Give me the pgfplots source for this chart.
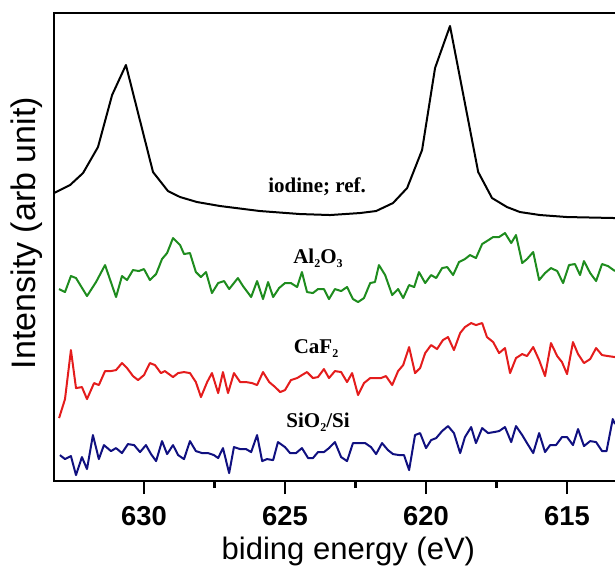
\documentclass[border=0pt]{standalone}
\usepackage{pgfplots}
\pgfplotsset{compat=1.18}
\usepackage{fontspec}
\setmainfont{Liberation Sans}
\newfontfamily\timesfont{Liberation Serif}
\definecolor{cgreen}{RGB}{30,140,30}
\definecolor{cred}{RGB}{228,28,28}
\definecolor{cblue}{RGB}{16,16,128}
\newcommand{\lab}{\timesfont\bfseries\fontsize{15.75}{16}\selectfont}
\newcommand{\sub}[1]{\raisebox{-3.5pt}{\fontsize{9}{9}\selectfont #1}}
\begin{document}
\begin{tikzpicture}
\begin{axis}[
  scale only axis, width=427.0pt, height=351pt,
  xmin=613.0, xmax=633.19, ymin=0, ymax=468,
  x dir=reverse,
  axis line style={line width=2pt},
  ytick=\empty,
  xtick={615,620,625,630}, minor x tick num=1,
  xtick pos=left, tick align=outside,
  major tick length=9.75pt, minor tick length=5.25pt,
  every tick/.style={black, line width=1.6pt},
  /pgf/number format/assume math mode=true,
  xticklabel style={font=\bfseries\fontsize{20.5}{20.5}\selectfont, inner sep=0pt, anchor=north, yshift=-9pt},
  xlabel={biding energy (eV)},
  ylabel={Intensity (arb unit)},
  xlabel style={at={(axis description cs:0.517,0)}, anchor=north, inner sep=0pt, yshift=-42pt, font=\fontsize{23.25}{24}\selectfont},
  ylabel style={at={(axis description cs:-0.02,0.53)}, anchor=south, inner sep=0pt, font=\fontsize{25.5}{26}\selectfont},
  every axis plot/.append style={line width=1.5pt, line join=round},
]
\coordinate (bl) at (rel axis cs:0,0);
\coordinate (tr) at (rel axis cs:1,1);
% iodine reference
\addplot[black] coordinates {
(633.19,288) (632.62,296) (632.16,308) (631.63,334) (631.13,386) (630.64,416)
(629.68,309) (629.15,290) (628.72,284) (628.12,279) (627.30,275) (625.89,270)
(624.47,267) (623.40,266) (622.34,268) (621.77,270) (621.17,278) (620.67,293)
(620.14,331) (619.68,413) (619.15,455) (618.15,309) (617.66,283) (617.13,274)
(616.67,269) (615.96,266) (615.00,264) (613.30,263)
};
% Al2O3
\addplot[cgreen] coordinates {
(633.01,192) (632.80,189) (632.59,205) (632.41,203) (632.02,185) (631.70,199)
(631.38,216) (630.99,184) (630.78,205) (630.60,201) (630.39,211) (630.18,210)
(630.00,212) (629.79,201) (629.57,207) (629.36,222) (629.18,228) (628.97,243)
(628.72,236) (628.58,227) (628.37,228) (628.16,209) (627.98,204) (627.80,209)
(627.59,188) (627.37,198) (627.16,200) (626.98,192) (626.67,203) (626.49,195)
(626.20,184) (625.99,200) (625.78,182) (625.60,199) (625.42,184) (625.21,193)
(625.00,198) (624.79,198) (624.57,194) (624.40,209) (624.22,189) (624.01,188)
(623.83,192) (623.62,192) (623.44,182) (623.23,192) (623.01,190) (622.80,194)
(622.59,182) (622.41,179) (622.20,183) (621.98,198) (621.81,199) (621.67,216)
(621.45,206) (621.20,186) (620.99,192) (620.81,183) (620.60,196) (620.42,194)
(620.25,209) (620.03,198) (619.82,206) (619.64,203) (619.43,213) (619.25,214)
(619.04,206) (618.83,219) (618.62,222) (618.44,226) (618.23,223) (618.01,237)
(617.84,240) (617.62,244) (617.41,244) (617.20,248) (616.98,238) (616.81,246)
(616.59,218) (616.42,222) (616.20,229) (615.99,201) (615.78,208) (615.57,213)
(615.35,210) (615.14,198) (614.93,216) (614.72,217) (614.54,206) (614.40,220)
(614.18,208) (613.97,200) (613.76,217) (613.55,215) (613.30,210)
};
% CaF2
\addplot[cred] coordinates {
(633.01,63) (632.80,82) (632.59,131) (632.41,93) (632.20,94) (632.02,82)
(631.77,98) (631.60,96) (631.38,110) (631.17,110) (630.99,111) (630.78,118)
(630.60,113) (630.39,105) (630.21,101) (630.00,106) (629.79,118) (629.61,116)
(629.40,108) (629.26,110) (628.97,104) (628.79,108) (628.58,109) (628.37,108)
(628.16,99) (627.98,84) (627.76,99) (627.59,108) (627.37,88) (627.20,109)
(627.02,88) (626.81,108) (626.59,99) (626.38,99) (626.17,98) (625.99,96)
(625.78,109) (625.56,99) (625.35,94) (625.17,89) (625.00,91) (624.79,101)
(624.57,103) (624.40,106) (624.22,109) (624.01,103) (623.83,104) (623.62,112)
(623.44,103) (623.23,110) (623.01,109) (622.80,99) (622.62,108) (622.41,86)
(622.20,98) (621.98,103) (621.81,103) (621.60,103) (621.42,105) (621.20,96)
(620.99,110) (620.81,116) (620.60,134) (620.39,108) (620.21,113) (620.03,128)
(619.82,136) (619.61,132) (619.40,141) (619.22,144) (619.01,131) (618.79,148)
(618.62,154) (618.40,158) (618.23,156) (618.01,158) (617.84,144) (617.62,139)
(617.41,128) (617.20,133) (617.02,108) (616.81,123) (616.59,127) (616.42,125)
(616.20,134) (615.99,121) (615.78,105) (615.57,138) (615.35,125) (615.18,119)
(615.00,107) (614.79,139) (614.61,127) (614.40,118) (614.18,122) (613.97,133)
(613.76,126) (613.55,125) (613.30,124)
};
% SiO2/Si
\addplot[cblue] coordinates {
(632.98,26) (632.80,22) (632.59,25) (632.41,6) (632.20,24) (632.02,12)
(631.81,46) (631.60,22) (631.42,36) (631.17,30) (630.99,33) (630.78,28)
(630.57,37) (630.35,36) (630.14,29) (629.93,36) (629.75,27) (629.57,20)
(629.36,40) (629.18,27) (628.97,36) (628.79,26) (628.58,22) (628.37,40)
(628.16,30) (627.94,28) (627.73,28) (627.52,26) (627.37,23) (627.20,33)
(626.98,8) (626.81,34) (626.59,32) (626.38,32) (626.20,29) (625.99,46)
(625.81,20) (625.64,22) (625.42,21) (625.25,39) (625.00,34) (624.82,28)
(624.61,28) (624.40,33) (624.18,23) (624.01,23) (623.83,29) (623.62,29)
(623.44,33) (623.23,39) (623.01,24) (622.80,20) (622.59,38) (622.37,38)
(622.16,38) (621.95,34) (621.77,27) (621.56,38) (621.35,31) (621.17,27)
(620.95,26) (620.78,26) (620.60,11) (620.39,46) (620.21,48) (620.00,33)
(619.82,41) (619.64,43) (619.43,50) (619.22,55) (619.01,48) (618.79,28)
(618.62,44) (618.40,54) (618.23,38) (618.01,53) (617.80,48) (617.59,49)
(617.41,50) (617.20,54) (616.98,39) (616.81,55) (616.59,46) (616.42,38)
(616.20,28) (615.99,48) (615.78,29) (615.60,36) (615.39,36) (615.18,44)
(615.00,44) (614.79,36) (614.61,52) (614.40,35) (614.18,40) (613.97,39)
(613.76,30) (613.60,30) (613.38,62) (613.30,57)
};
\node[anchor=base, inner sep=0pt] at (axis cs:623.86,289) {\lab iodine; ref.};
\node[anchor=base, inner sep=0pt] at (axis cs:623.83,218) {\lab Al\sub{2}O\sub{3}};
\node[anchor=base, inner sep=0pt] at (axis cs:623.90,128) {\lab CaF\sub{2}};
\node[anchor=base, inner sep=0pt] at (axis cs:623.83,54) {\lab SiO\sub{2}/Si};
\end{axis}
\pgfresetboundingbox
\path[use as bounding box] ([xshift=-40.5pt,yshift=-66.75pt]bl) rectangle ([xshift=-6.35pt,yshift=9.75pt]tr);
\end{tikzpicture}
\end{document}
